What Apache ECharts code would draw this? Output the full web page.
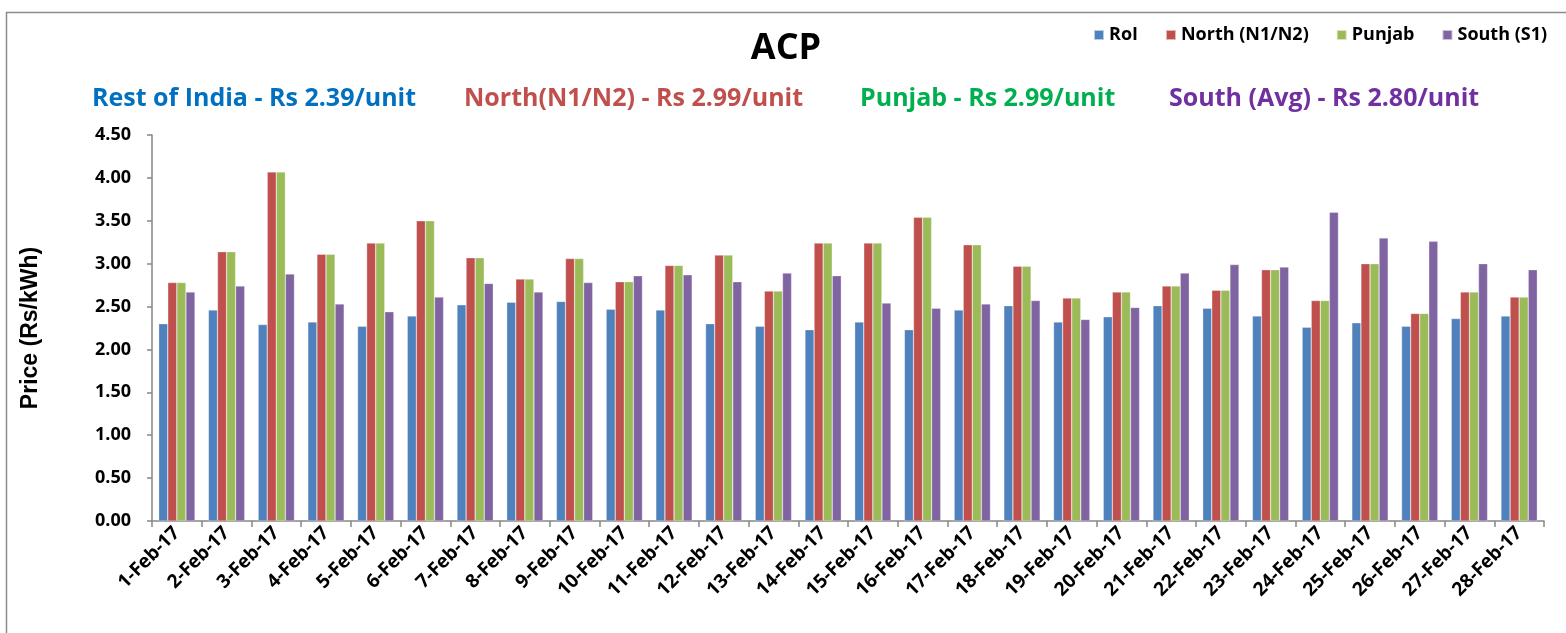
<!DOCTYPE html>
<html><head><meta charset="utf-8">
<script src="https://cdn.jsdelivr.net/npm/echarts@6/dist/echarts.min.js"></script>
<style>html,body{margin:0;padding:0;background:#fff}#c{width:1566px;height:633px}</style>
</head><body><div id="c"></div>
<script>
const categories = ['1-Feb-17','2-Feb-17','3-Feb-17','4-Feb-17','5-Feb-17','6-Feb-17','7-Feb-17','8-Feb-17','9-Feb-17','10-Feb-17','11-Feb-17','12-Feb-17','13-Feb-17','14-Feb-17','15-Feb-17','16-Feb-17','17-Feb-17','18-Feb-17','19-Feb-17','20-Feb-17','21-Feb-17','22-Feb-17','23-Feb-17','24-Feb-17','25-Feb-17','26-Feb-17','27-Feb-17','28-Feb-17'];
const roi    = [2.30,2.46,2.29,2.32,2.27,2.39,2.52,2.55,2.56,2.47,2.46,2.30,2.27,2.23,2.32,2.23,2.46,2.51,2.32,2.38,2.51,2.48,2.39,2.26,2.31,2.27,2.36,2.39];
const north  = [2.78,3.14,4.07,3.11,3.24,3.50,3.07,2.82,3.06,2.79,2.98,3.10,2.68,3.24,3.24,3.54,3.22,2.97,2.60,2.67,2.74,2.69,2.93,2.57,3.00,2.42,2.67,2.61];
const punjab = [2.78,3.14,4.07,3.11,3.24,3.50,3.07,2.82,3.06,2.79,2.98,3.10,2.68,3.24,3.24,3.54,3.22,2.97,2.60,2.67,2.74,2.69,2.93,2.57,3.00,2.42,2.67,2.61];
const south  = [2.67,2.74,2.88,2.53,2.44,2.61,2.77,2.67,2.78,2.86,2.87,2.79,2.89,2.86,2.54,2.48,2.53,2.57,2.35,2.49,2.89,2.99,2.96,3.60,3.30,3.26,3.00,2.93];
const seriesNames = ['RoI','North (N1/N2)','Punjab','South (S1)'];
const seriesColors = ['#4F81BD','#C0504D','#9BBB59','#8064A2'];
const yTicks = {min:0, max:4.5, interval:0.5};
const subtitles = [
  {text:'Rest of India - Rs 2.39/unit', color:'#0070C0', x:92},
  {text:'North(N1/N2) - Rs 2.99/unit', color:'#C0504D', x:464},
  {text:'Punjab - Rs 2.99/unit', color:'#00B050', x:860},
  {text:'South (Avg) - Rs 2.80/unit', color:'#7030A0', x:1169}
];
const font = '"Open Sans",Lato,sans-serif';
const chart = echarts.init(document.getElementById('c'), null, {renderer:'canvas'});
const data = [roi, north, punjab, south];
chart.setOption({
  animation:false,
  backgroundColor:'#fff',
  title:{text:'ACP', left:781, top:26, textAlign:'center',
    textStyle:{fontFamily:font, fontWeight:'bold', fontSize:36, color:'#000'}},
  legend:{data:seriesNames, left:1088, top:21, icon:'rect', itemWidth:10, itemHeight:10, itemGap:27,
    textStyle:{fontFamily:font, fontWeight:'bold', fontSize:18, color:'#000'}},
  graphic:[
    {type:'rect', left:4, top:10, shape:{width:1700, height:800}, style:{fill:'none', stroke:'#8c8c8c', lineWidth:1.5}, silent:true, z:-1},
    ...subtitles.map(s=>({type:'text', left:s.x, top:86, style:{text:s.text, fill:s.color, font:'bold 25px '+font}}))
  ],
  grid:{left:152, right:22, top:135, bottom:112, containLabel:false},
  xAxis:{type:'category', data:categories, boundaryGap:true,
    axisLine:{lineStyle:{color:'#868686', width:1.5}},
    axisTick:{show:true, alignWithLabel:false, length:6, lineStyle:{color:'#868686', width:1.5}},
    axisLabel:{interval:0, rotate:45, margin:9, fontFamily:font, fontWeight:'bold', fontSize:19, color:'#000'}},
  yAxis:{type:'value', min:yTicks.min, max:yTicks.max, interval:yTicks.interval,
    name:'Price (Rs/kWh)', nameLocation:'middle', nameGap:110, nameRotate:90,
    nameTextStyle:{fontFamily:'"Liberation Sans",Arial,sans-serif', fontWeight:'bold', fontSize:23, color:'#000'},
    axisLine:{show:true, lineStyle:{color:'#868686', width:1.5}},
    axisTick:{show:true, length:5, lineStyle:{color:'#868686', width:1.5}},
    splitLine:{show:false},
    axisLabel:{margin:21, fontFamily:font, fontWeight:'bold', fontSize:18, color:'#000', formatter:v=>v.toFixed(2)}},
  series: seriesNames.map((n,i)=>({
    name:n, type:'bar', data:data[i], barGap:'0%', barCategoryGap:'27%',
    itemStyle:{color:seriesColors[i], borderColor:'rgba(255,255,255,0.6)', borderWidth:0.5}
  }))
});
</script></body></html>
